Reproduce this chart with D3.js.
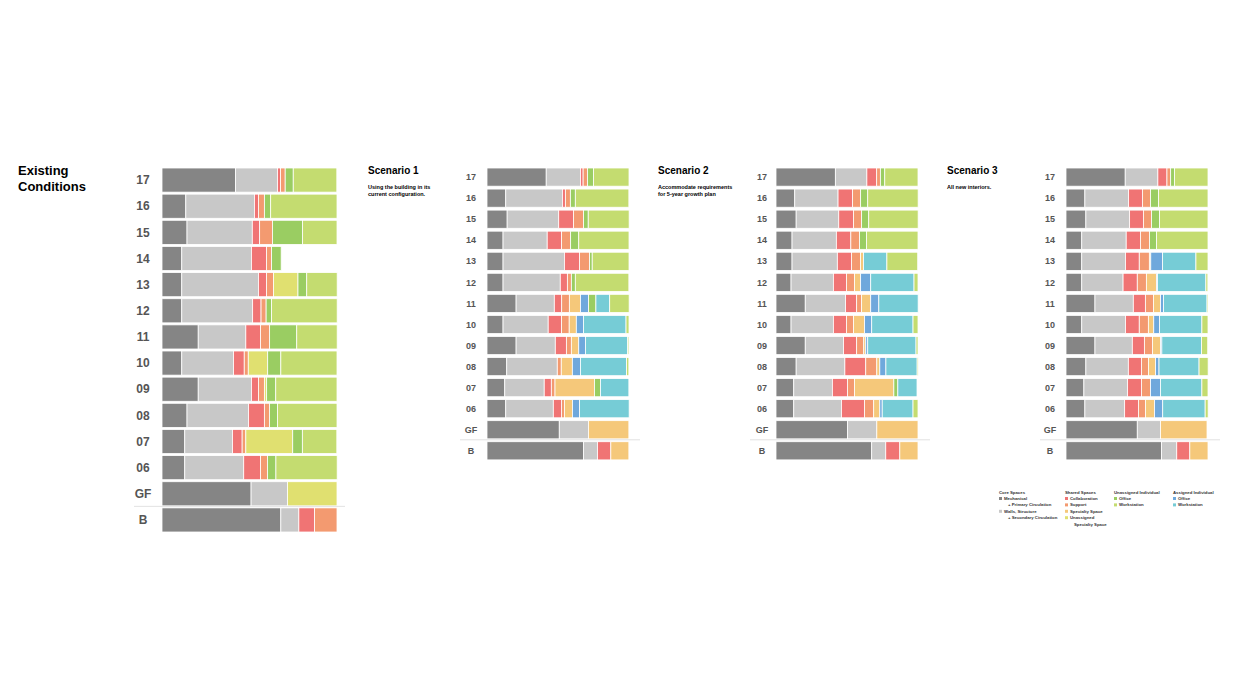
<!DOCTYPE html>
<html>
<head>
<meta charset="utf-8">
<script src="https://cdn.jsdelivr.net/npm/d3@7"></script>
<style>
  body { margin: 0; background: #fff; font-family: Arial, "Liberation Sans", sans-serif; }
</style>
</head>
<body>
<div id="chart"></div>
<script>
// floors, top to bottom
var floors = ['17', '16', '15', '14', '13', '12', '11', '10', '09', '08', '07', '06', 'GF', 'B'];

// space types (column order of the data rows)
var categories = ['Mechanical', 'Walls', 'Collaboration', 'Support', 'Specialty', 'UnSpecialty',
                  'UnOffice', 'UnWorkstation', 'AsOffice', 'AsWorkstation'];
var colors = ['#858585', '#c8c8c8', '#f07474', '#f39a70', '#f5c87a', '#e0e070',
              '#9acd62', '#c4dc70', '#6fa8dc', '#76ccd6'];
// stacking order, left to right
var stackOrder = [0, 1, 2, 3, 4, 5, 8, 6, 9, 7];

// % of floor, order = categories
var existing = [
  [42, 24, 1.7, 2.7, 0, 0, 4.6, 24.9, 0, 0],
  [13.6, 39.2, 2.3, 3.4, 0, 0, 3.6, 37.9, 0, 0],
  [14.3, 37.3, 4.2, 7.3, 0, 0, 17.2, 19.7, 0, 0],
  [11.3, 39.8, 8.6, 2.9, 0, 0, 5.5, 0, 0, 0],
  [11.3, 43.8, 4.6, 4, 0, 14, 5, 17.4, 0, 0],
  [11.3, 40.5, 4.8, 2.9, 0, 0, 3.1, 37.5, 0, 0],
  [20.7, 27.2, 8.4, 5.2, 0, 0, 15.5, 23.1, 0, 0],
  [11.3, 29.6, 6.1, 2.3, 0, 11.1, 7.5, 32.1, 0, 0],
  [20.7, 30.4, 4, 3.4, 0, 1.3, 5.2, 35, 0, 0],
  [14.3, 35.2, 9, 2.9, 0, 0, 4.6, 34, 0, 0],
  [13, 27.3, 5.5, 2.1, 0, 26.8, 5.5, 19.7, 0, 0],
  [13, 33.7, 9.6, 4, 0, 0, 4.8, 35, 0, 0],
  [50.9, 20.8, 0, 0, 0, 28.3, 0, 0, 0, 0],
  [67.9, 10.3, 9, 12.8, 0, 0, 0, 0, 0, 0]
];
var scenario1 = [
  [41.7, 24.1, 1.9, 3.1, 0, 0, 4.2, 25, 0, 0],
  [13.2, 39.9, 2.1, 3.5, 0, 0, 3.5, 37.7, 0, 0],
  [14.2, 36.3, 10.4, 7.1, 0, 0, 3.3, 28.8, 0, 0],
  [11.3, 31.1, 10.1, 6.4, 0, 0, 5.7, 35.4, 0, 0],
  [11.3, 43.2, 10.6, 7.1, 0, 0, 1.9, 25.9, 0, 0],
  [11.3, 40.3, 5, 2.8, 0, 0, 2.8, 37.7, 0, 0],
  [20.5, 26.9, 5.2, 5.4, 7.8, 0, 5.2, 13.7, 5.7, 9.7],
  [11.3, 31.8, 9.4, 5.4, 5, 0, 0, 2.1, 5, 30],
  [20.5, 27.6, 7.8, 3.5, 5.2, 0, 0, 0.9, 4.7, 29.7],
  [13.9, 35.6, 0, 2.8, 7.8, 0, 0, 1.6, 5.7, 32.5],
  [12.5, 27.8, 5, 2.6, 27.8, 0, 4.2, 0, 0, 20],
  [13.2, 33.5, 5.7, 2.1, 5.7, 0, 0, 0, 5, 34.9],
  [50.9, 20.5, 0, 0, 28.5, 0, 0, 0, 0, 0],
  [67.9, 9.9, 9.4, 0, 12.7, 0, 0, 0, 0, 0]
];
var scenario2 = [
  [41.8, 22.2, 6.9, 2.6, 0, 0, 3.1, 23.4, 0, 0],
  [13.2, 30.5, 10.2, 5.7, 0, 0, 5, 35.5, 0, 0],
  [14.2, 30, 10.4, 5.7, 0, 0, 5, 34.8, 0, 0],
  [11.3, 31.2, 10.2, 6.1, 0, 0, 5, 36.2, 0, 0],
  [11.3, 31.9, 9.9, 6.4, 2.1, 0, 0, 21.7, 0, 16.5],
  [10.6, 29.8, 9.2, 5.7, 4.3, 0, 0, 2.8, 7.1, 30.5],
  [20.6, 28.4, 7.8, 3.5, 6.4, 0, 0, 0, 5.7, 27.7],
  [10.6, 29.8, 9.2, 5, 7.8, 0, 0, 3.5, 5, 29.1],
  [20.6, 27, 9.2, 5, 1.4, 0, 0, 1.4, 1.4, 34],
  [14.2, 34.3, 14.7, 7.8, 2.1, 0, 0, 0.7, 4.3, 22],
  [12.5, 27.2, 10.6, 5, 27.7, 0, 2.8, 0, 0, 13.5],
  [12.5, 33.6, 16.3, 6.4, 4.3, 0, 0, 3.5, 1.7, 21.7],
  [50.4, 20.6, 0, 0, 29, 0, 0, 0, 0, 0],
  [67.4, 9.9, 9.9, 0, 12.8, 0, 0, 0, 0, 0]
];
var scenario3 = [
  [41.7, 23, 6.4, 2.6, 0, 0, 2.8, 23.5, 0, 0],
  [13.3, 30.8, 9.7, 5.7, 0, 0, 5.7, 34.8, 0, 0],
  [14, 30.8, 9.7, 5.7, 0, 0, 5.7, 34.1, 0, 0],
  [11.1, 31.3, 10, 6.4, 0, 0, 5, 36.2, 0, 0],
  [11.1, 30.8, 9.7, 7.1, 1, 0, 0, 8.5, 8.3, 23.5],
  [11.1, 29.1, 10, 6.4, 7.1, 0, 0, 1.4, 0.7, 34.1],
  [20.4, 27, 8.5, 5.7, 5, 0, 0, 0.7, 2.1, 30.6],
  [11.1, 30.8, 9.7, 6.4, 3.8, 0, 0, 4.3, 4, 29.9],
  [20.4, 26.3, 8.5, 5.7, 5.7, 0, 0, 4.3, 0.9, 28],
  [14, 29.9, 9.2, 5, 5, 0, 0, 6.4, 2.4, 28.2],
  [12.6, 30.8, 9.7, 6.4, 0, 0, 0, 4.3, 7.1, 29.1],
  [13.3, 28, 9.7, 5, 6.4, 0, 0, 2.1, 5.7, 29.9],
  [50.2, 16.4, 0, 0, 32.7, 0, 0, 0, 0, 0],
  [67.3, 10.7, 9.2, 0, 12.8, 0, 0, 0, 0, 0]
];

var titles = [
  {t: 'Scenario 1', s: ['Using the building in its', 'current configuration.'], x: 368},
  {t: 'Scenario 2', s: ['Accommodate requirements', 'for 5-year growth plan'], x: 658},
  {t: 'Scenario 3', s: ['All new interiors.'], x: 947}
];

var svg = d3.select('#chart').append('svg')
  .attr('width', 1235).attr('height', 694);

function panel(data, x0, x1, step, bw, labelX, fontSize, lineX0, lineX1) {
  var x = d3.scaleLinear().domain([0, 100]).range([x0, x1]);
  var y = d3.scaleBand().domain(floors)
    .range([168, 168 + step * floors.length])
    .paddingInner((step - bw) / step).paddingOuter(0);
  var g = svg.append('g');
  var rows = g.selectAll('g.row').data(data).enter().append('g')
    .attr('transform', function(d, i) { return 'translate(0,' + y(floors[i]) + ')'; });
  rows.selectAll('rect').data(function(d) {
      var acc = 0;
      return stackOrder.map(function(k) { var s = acc; acc += d[k]; return {s: s, v: d[k], k: k}; })
        .filter(function(e) { return e.v > 0; });
    })
    .enter().append('rect')
    .attr('x', function(e) { return x(e.s); })
    .attr('width', function(e) { return x(e.s + e.v) - x(e.s); })
    .attr('height', y.bandwidth())
    .attr('fill', function(e) { return colors[e.k]; })
    .attr('stroke', '#fff').attr('stroke-width', 0.8);
  g.selectAll('text.fl').data(floors).enter().append('text')
    .attr('x', labelX).attr('y', function(d) { return y(d) + y.bandwidth() / 2; })
    .attr('dy', '0.35em').attr('text-anchor', 'middle')
    .style('font-size', fontSize + 'px').style('font-weight', 'bold').style('fill', '#555')
    .text(function(d) { return d; });
  var ly = y('B') - (step - bw) / 2 - 0.5;
  g.append('line').attr('x1', lineX0).attr('x2', lineX1).attr('y1', ly).attr('y2', ly)
    .attr('stroke', '#e2e2e2').attr('stroke-width', 1);
}

panel(existing, 162, 337, 26, 24, 143, 12, 134, 345);
panel(scenario1, 487, 629, 20.85, 18, 471, 9, 460, 640);
panel(scenario2, 776, 918, 20.85, 18, 762, 9, 750, 930);
panel(scenario3, 1066, 1208, 20.85, 18, 1050, 9, 1040, 1220);

svg.append('text').attr('x', 18).attr('y', 175)
  .style('font-size', '13px').style('font-weight', 'bold').text('Existing');
svg.append('text').attr('x', 18).attr('y', 191)
  .style('font-size', '13px').style('font-weight', 'bold').text('Conditions');

titles.forEach(function(t) {
  svg.append('text').attr('x', t.x).attr('y', 174)
    .style('font-size', '10px').style('font-weight', 'bold').text(t.t);
  t.s.forEach(function(s, i) {
    svg.append('text').attr('x', t.x).attr('y', 189 + i * 7)
      .style('font-size', '5.5px').style('font-weight', 'bold').text(s);
  });
});

// legend
var legend = [
  {x: 999, h: 'Core Spaces', items: [[0, 'Mechanical'], [-1, '+ Primary Circulation'], [1, 'Walls, Structure'], [-1, '+ Secondary Circulation']]},
  {x: 1065, h: 'Shared Spaces', items: [[2, 'Collaboration'], [3, 'Support'], [4, 'Specialty Space'], [5, 'Unassigned'], [-1, 'Specialty Space']]},
  {x: 1114, h: 'Unassigned Individual', items: [[6, 'Office'], [7, 'Workstation']]},
  {x: 1173, h: 'Assigned Individual', items: [[8, 'Office'], [9, 'Workstation']]}
];
legend.forEach(function(c) {
  var g = svg.append('g').attr('transform', 'translate(' + c.x + ',494)');
  g.append('text').attr('y', 0).style('font-size', '4.3px').style('font-weight', 'bold')
    .style('fill', '#333').text(c.h);
  c.items.forEach(function(it, i) {
    var yy = 6 + i * 6.4;
    if (it[0] >= 0) {
      g.append('rect').attr('x', 0).attr('y', yy - 3).attr('width', 3).attr('height', 3)
        .attr('fill', colors[it[0]]);
    }
    g.append('text').attr('x', it[0] >= 0 ? 5 : 9).attr('y', yy)
      .style('font-size', '4.3px').style('font-weight', 'bold').style('fill', '#333').text(it[1]);
  });
});
</script>
</body>
</html>
